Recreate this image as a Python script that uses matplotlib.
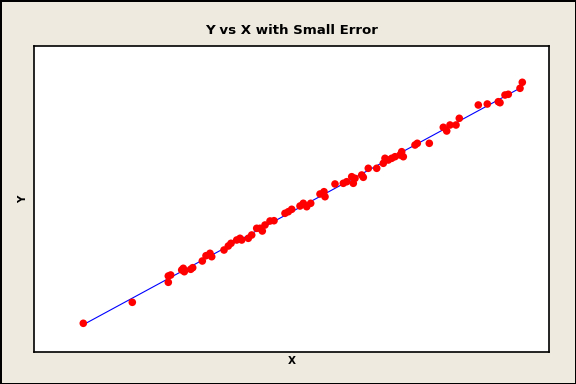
import numpy as np
import matplotlib.pyplot as plt

# values (arbitrary units, no scale shown)
x = [83.3, 132.3, 168.3, 168.3, 170.7, 181.7, 184.3, 183.3, 192.7, 190.7,
     202.3, 206.0, 210.0, 211.7, 224.0, 228.3, 231.0, 236.7, 240.0, 241.7,
     248.3, 251.7, 256.7, 260.0, 262.3, 265.0, 270.0, 274.0, 285.0, 288.3,
     291.7, 300.0, 303.3, 306.7, 310.7, 320.0, 324.0, 325.0, 335.0, 343.3,
     346.7, 351.7, 355.0, 353.3, 361.7, 363.3, 368.3, 376.7, 383.3, 385.0,
     388.3, 391.7, 395.0, 400.0, 401.7, 403.3, 415.0, 417.3, 429.3, 443.3,
     446.7, 450.0, 456.0, 459.3, 478.3, 487.3, 498.3, 500.0, 505.0, 508.3,
     520.0, 522.3]
y = [60.7, 81.7, 108.0, 101.7, 109.0, 114.0, 112.3, 115.7, 116.3, 114.7,
     123.0, 128.3, 130.7, 127.3, 134.0, 138.0, 140.7, 144.0, 145.7, 144.0,
     145.7, 149.0, 155.7, 155.7, 153.0, 159.0, 163.0, 163.3, 170.7, 172.3,
     174.7, 178.0, 180.7, 177.3, 180.7, 190.0, 192.3, 187.3, 200.0, 200.7,
     202.3, 207.3, 205.7, 200.7, 209.0, 206.7, 215.7, 215.7, 220.7, 225.7,
     224.0, 225.7, 227.3, 229.0, 232.3, 227.3, 239.0, 240.7, 240.7, 256.7,
     253.0, 259.0, 259.0, 265.7, 279.0, 280.0, 282.3, 281.3, 289.0, 289.7,
     295.7, 301.7]

x = np.array(x)
y = np.array(y)
b, a = np.polyfit(x, y, 1)
xf = np.array([x.min(), x.max()])

bg = '#eeeae0'
fig = plt.figure(figsize=(5.76, 3.84), dpi=100, facecolor=bg)
fig.patch.set_edgecolor('black')
fig.patch.set_linewidth(2)
ax = fig.add_axes([34/576, 32/384, 515/576, 306/384])

ax.plot(xf, a + b*xf, color='blue', lw=0.8, zorder=1)
ax.scatter(x, y, s=30, color='red', edgecolors='none', zorder=2)

ax.set_xlim(34, 549)
ax.set_ylim(32, 338)
ax.set_xticks([])
ax.set_yticks([])
for s in ax.spines.values():
    s.set_linewidth(1.2)

ax.set_title('Y vs X with Small Error', fontsize=9.6, fontweight='bold',
             family='DejaVu Sans', pad=9)
ax.set_xlabel('X', fontsize=7.5, fontweight='bold', family='DejaVu Sans', labelpad=3)
ax.set_ylabel('Y', fontsize=7.5, fontweight='bold', family='DejaVu Sans', labelpad=4)

fig.savefig('out.png', dpi=100, facecolor=bg, edgecolor='black')
